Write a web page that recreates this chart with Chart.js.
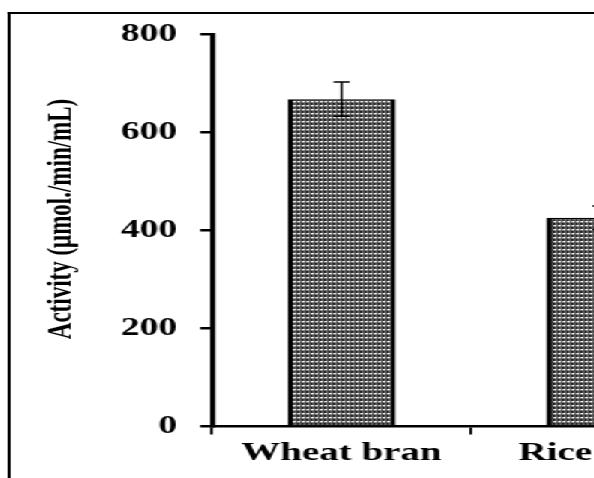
<!DOCTYPE html>
<html>
<head>
<meta charset="utf-8">
<script src="https://cdn.jsdelivr.net/npm/chart.js@4/dist/chart.umd.min.js"></script>
<style>
  html, body { margin: 0; padding: 0; background: #fff; overflow: hidden; width: 594px; height: 478px; }
  #wrap { position: absolute; left: 0; top: 0; width: 520px; height: 478px; transform: scaleX(1.5); transform-origin: 0 0; }
  #frame { position: absolute; left: 4.7px; top: 11.5px; width: 2000px; height: 2000px; border-left: 2px solid #000; border-top: 2px solid #000; }
  #c { position: absolute; left: 0; top: 0; }
</style>
</head>
<body>
<div id="wrap">
  <div id="frame"></div>
  <canvas id="c" width="520" height="478"></canvas>
</div>
<script>
// ---- data ----
const categories = ['Wheat bran', 'Rice bran'];
const activity = [668, 426];
const activityError = [35, 24];
const yTicks = [0, 200, 400, 600, 800];
const yTitle = 'Activity (\u03BCmol./min/mL)';

function makePattern(ctx) {
  const c = document.createElement('canvas');
  c.width = 3; c.height = 4;
  const g = c.getContext('2d');
  const rows = [
    ['#1e1e1e', '#5e5e5e', '#5e5e5e'],
    ['#d8d8d8', '#ffffff', '#555555'],
    ['#7a7a7a', '#9a9a9a', '#4a4a4a'],
    ['#141414', '#555555', '#555555']
  ];
  rows.forEach((r, y) => r.forEach((col, x) => { g.fillStyle = col; g.fillRect(x, y, 1, 1); }));
  return ctx.createPattern(c, 'repeat');
}

const errorBars = {
  id: 'errorBars',
  afterDatasetsDraw(chart) {
    const ctx = chart.ctx;
    const ys = chart.scales.y;
    const meta = chart.getDatasetMeta(0);
    ctx.save();
    ctx.strokeStyle = '#000';
    ctx.lineWidth = 1.5;
    meta.data.forEach((bar, i) => {
      const v = activity[i], e = activityError[i];
      const yTop = ys.getPixelForValue(v + e);
      const yBot = ys.getPixelForValue(v - e);
      const cap = 5.3;
      ctx.beginPath();
      ctx.moveTo(bar.x, yTop); ctx.lineTo(bar.x, yBot);
      ctx.moveTo(bar.x - cap, yTop); ctx.lineTo(bar.x + cap, yTop);
      ctx.moveTo(bar.x - cap, yBot); ctx.lineTo(bar.x + cap, yBot);
      ctx.stroke();
    });
    ctx.restore();
  }
};

const canvas = document.getElementById('c');
const ctx = canvas.getContext('2d');
Chart.defaults.font.family = "'Liberation Serif', 'Times New Roman', serif";
Chart.defaults.color = '#000';

new Chart(ctx, {
  type: 'bar',
  data: {
    labels: categories,
    datasets: [{
      data: activity,
      backgroundColor: makePattern(ctx),
      borderColor: '#000',
      borderWidth: { left: 3.6, right: 3.4, top: 1.6, bottom: 0 },
      borderSkipped: false,
      categoryPercentage: 1,
      barPercentage: 0.417
    }]
  },
  options: {
    responsive: false,
    animation: false,
    devicePixelRatio: 1,
    layout: { padding: { left: 10, right: 33.33, top: 34.5, bottom: 0 } },
    plugins: { legend: { display: false }, tooltip: { enabled: false } },
    scales: {
      x: {
        offset: true,
        grid: { display: true, drawOnChartArea: false, offset: true, tickLength: 8, color: '#000', lineWidth: 1.8 },
        border: { display: true, color: '#000', width: 2.5 },
        ticks: { font: { size: 26, weight: 'bold' }, padding: 3, color: '#000', maxRotation: 0, autoSkip: false },
        afterFit: (s) => { s.height = 51.5; }
      },
      y: {
        min: 0, max: 800,
        afterBuildTicks: (s) => { s.ticks = yTicks.map(v => ({ value: v })); },
        grid: { display: true, drawOnChartArea: false, tickLength: 8, color: '#000', lineWidth: 2.5 },
        border: { display: true, color: '#000', width: 3.4 },
        ticks: { font: { size: 25, weight: 'bold' }, padding: 15.3, color: '#000' },
        title: {
          display: true,
          text: ' '.repeat(4) + yTitle,
          font: { size: 23, weight: 'bold' },
          padding: { top: 17, bottom: 0 },
          color: '#000'
        },
        afterFit: (s) => { s.width = 131.33; }
      }
    }
  },
  plugins: [errorBars]
});
</script>
</body>
</html>
